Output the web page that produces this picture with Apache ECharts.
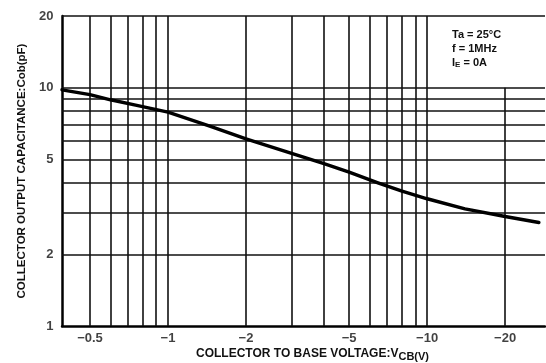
<!DOCTYPE html>
<html>
<head>
<meta charset="utf-8">
<script src="https://cdn.jsdelivr.net/npm/echarts@6/dist/echarts.min.js"></script>
<style>html,body{margin:0;padding:0;background:#fff}#c{width:546px;height:363px}</style>
</head>
<body>
<div id="c"></div>
<script>
// Collector-to-base voltage magnitude |V_CB| (V) and output capacitance Cob (pF)
const vcb = [0.39, 0.5, 0.6, 0.75, 1.0, 1.45, 2.0, 3.0, 4.0, 5.0, 6.5, 8.0, 10, 14, 20, 27];
const cob = [9.8, 9.35, 8.9, 8.45, 7.9, 6.9, 6.1, 5.3, 4.8, 4.42, 3.98, 3.68, 3.42, 3.1, 2.88, 2.72];
// Tick labels
const xTickLabels = [0.5, 1, 2, 5, 10, 20];
const yTickLabels = [1, 2, 5, 10, 20];
// Grid line values
const xGridFull = [0.5, 0.6, 0.7, 0.8, 0.9, 1, 2, 3, 4, 5, 6, 7, 8, 9, 10];
const xGridLow = [20];
const yGrid = [2, 3, 4, 5, 6, 7, 8, 9, 10, 20];
const xMin = 0.39, xMax = 28.5, yMin = 1, yMax = 20;
const notes = ['Ta = 25°C', 'f = 1MHz', 'I{s|E} = 0A'];

const FONT = 'Liberation Sans';
const chart = echarts.init(document.getElementById('c'), null, {renderer: 'canvas'});

const gridLines = [];
xGridFull.forEach(v => gridLines.push({xAxis: v}));
xGridLow.forEach(v => gridLines.push([{coord: [v, yMin]}, {coord: [v, 10]}]));
yGrid.forEach(v => gridLines.push({yAxis: v}));

chart.setOption({
  animation: false,
  backgroundColor: '#fff',
  grid: {left: 62, right: 1, top: 16, bottom: 37, containLabel: false, outerBoundsMode: 'none'},
  xAxis: {
    type: 'log', logBase: 10, min: xMin, max: xMax,
    axisLine: {show: true, lineStyle: {color: '#000', width: 2.5}},
    axisTick: {show: false}, axisLabel: {show: false}, splitLine: {show: false},
    name: 'COLLECTOR TO BASE VOLTAGE:V{s|CB(V)}',
    nameLocation: 'middle', nameGap: 20,
    nameTextStyle: {
      fontFamily: FONT, fontWeight: 'bold', fontSize: 12, color: '#111',
      padding: [0, 0, 0, 18],
      rich: {s: {fontFamily: FONT, fontWeight: 'bold', fontSize: 11, color: '#111', padding: [5, 0, 0, 0]}}
    }
  },
  yAxis: {
    type: 'log', logBase: 10, min: yMin, max: yMax,
    axisLine: {show: true, lineStyle: {color: '#000', width: 2.5}},
    axisTick: {show: false}, axisLabel: {show: false}, splitLine: {show: false},
    name: 'COLLECTOR OUTPUT CAPACITANCE:Cob(pF)',
    nameLocation: 'middle', nameGap: 34, nameRotate: 90,
    nameTextStyle: {fontFamily: FONT, fontWeight: 'bold', fontSize: 11.5, color: '#111'}
  },
  series: [
    {
      type: 'line', silent: true, symbol: 'none', z: 5,
      data: vcb.map((v, i) => [v, cob[i]]),
      smooth: false,
      lineStyle: {color: '#000', width: 3.4, join: 'round', cap: 'round'},
      markLine: {
        silent: true, symbol: 'none', z: 2,
        label: {show: false},
        lineStyle: {color: '#111', width: 1.6, type: 'solid'},
        data: gridLines
      }
    },
    {
      type: 'scatter', silent: true, symbolSize: 1, clip: false,
      itemStyle: {color: 'rgba(0,0,0,0)'},
      data: xTickLabels.map(v => [v, yMin]),
      label: {
        show: true, position: 'bottom', distance: 5,
        fontFamily: FONT, fontWeight: 'bold', fontSize: 13, color: '#111',
        formatter: p => '\u2212' + p.value[0]
      }
    },
    {
      type: 'scatter', silent: true, symbolSize: 1, clip: false,
      itemStyle: {color: 'rgba(0,0,0,0)'},
      data: yTickLabels.map(v => [xMin, v]),
      label: {
        show: true, position: 'left', distance: 8,
        fontFamily: FONT, fontWeight: 'bold', fontSize: 13, color: '#111',
        formatter: p => String(p.value[1])
      }
    }
  ],
  graphic: [{
    type: 'text', left: 452, top: 28, z: 10,
    style: {
      text: notes.join('\n'),
      fontFamily: FONT, fontWeight: 'bold', fontSize: 11, lineHeight: 14, fill: '#111',
      rich: {s: {fontFamily: FONT, fontWeight: 'bold', fontSize: 8, fill: '#111', padding: [4, 0, 0, 0]}}
    }
  }]
});
</script>
</body>
</html>
